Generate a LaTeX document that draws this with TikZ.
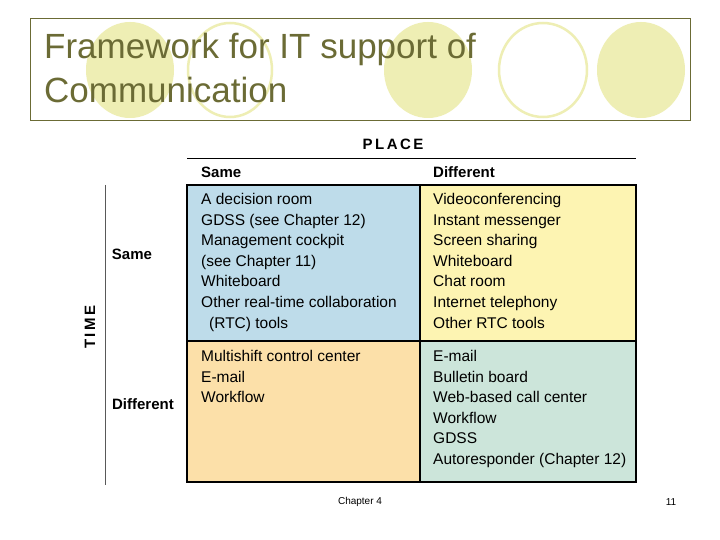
\documentclass[tikz,border=0pt]{standalone}
\usepackage{fontspec}
\setmainfont{Liberation Sans}
\begin{document}
\begin{tikzpicture}[x=1pt,y=-1pt,
  cell/.style={anchor=north west,align=left,font=\fontsize{15.5}{20.6}\selectfont,inner sep=0pt},
  hdr/.style={font=\bfseries\fontsize{15}{18}\selectfont,inner sep=0pt},
  circf/.style={fill=circ,draw=none},
  circo/.style={draw=circ,line width=2.5pt}]
\definecolor{olive}{HTML}{6B6B35}
\definecolor{circ}{HTML}{EEEEB4}
\definecolor{cblue}{HTML}{BEDCEA}
\definecolor{cyel}{HTML}{FDF4B2}
\definecolor{corg}{HTML}{FCE0A9}
\definecolor{cgrn}{HTML}{CCE5DA}
\useasboundingbox[fill=white] (0,0) rectangle (720,540);
\fill[circf] (130,70) ellipse (44 and 48);
\draw[circo] (230,70) ellipse (42 and 47);
\fill[circf] (428,70) ellipse (44 and 48);
\draw[circo] (543,70) ellipse (44 and 47);
\fill[circf] (641,70) ellipse (44 and 48);
\draw[olive,line width=0.8pt] (30,18) rectangle (690,120);
\node[anchor=west,align=left,text=olive,font=\fontsize{35}{44}\selectfont,inner sep=0pt] (title) at (44,68) {Framework for IT support of\\Communication};
\node[font=\bfseries\fontsize{15}{18}\selectfont] (place) at (393,144) {P\,L\,A\,C\,E};
\draw[line width=0.8pt] (187,158) -- (636,158);
\node[hdr,anchor=west] (hs) at (201,172) {Same};
\node[hdr,anchor=west] (hd) at (433,172) {Different};
\node[font=\bfseries\fontsize{15}{18}\selectfont,rotate=90] (time) at (90,327) {T\,I\,M\,E};
\draw[line width=0.8pt,gray!70!black] (105,185) -- (105,485);
\node[hdr] (vs) at (132,254) {Same};
\node[hdr] (vd) at (143,404) {Different};
\fill[cblue] (187,185) rectangle (420,341);
\fill[cyel] (420,185) rectangle (636,341);
\fill[corg] (187,341) rectangle (420,482);
\fill[cgrn] (420,341) rectangle (636,482);
\draw[line width=1.8pt] (187,185) rectangle (636,482);
\draw[line width=1.2pt] (420,185) -- (420,482) (187,341) -- (636,341);
\node[cell] (a) at (201,193) {A decision room\\GDSS (see Chapter 12)\\Management cockpit\\(see Chapter 11)\\Whiteboard\\Other real-time collaboration\\\hspace{8pt}(RTC) tools};
\node[cell] (b) at (433,193) {Videoconferencing\\Instant messenger\\Screen sharing\\Whiteboard\\Chat room\\Internet telephony\\Other RTC tools};
\node[cell] (c) at (201,350) {Multishift control center\\E-mail\\Workflow};
\node[cell] (d) at (433,350) {E-mail\\Bulletin board\\Web-based call center\\Workflow\\GDSS\\Autoresponder (Chapter 12)};
\node[font=\fontsize{10}{12}\selectfont] (ch) at (360,502) {Chapter 4};
\node[font=\fontsize{10}{12}\selectfont] (pg) at (671,502) {11};
\end{tikzpicture}
\end{document}
